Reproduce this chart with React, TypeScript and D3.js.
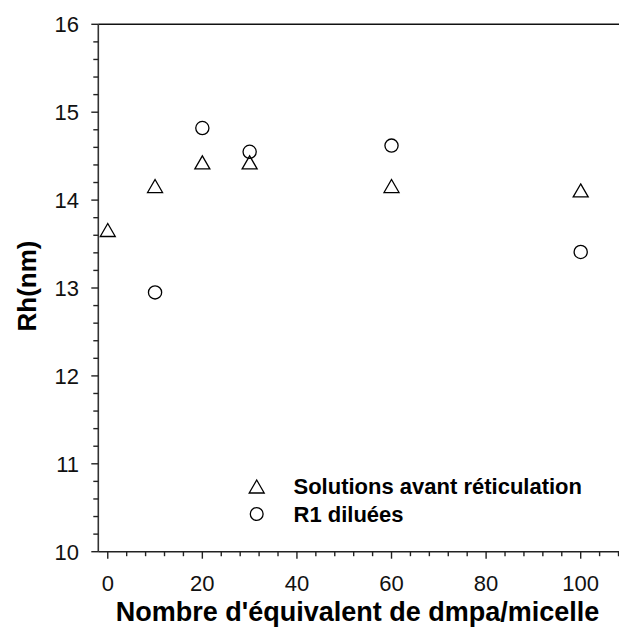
import React from "react";
import * as d3 from "d3";

const xValues = [0, 10, 20, 30, 60, 100];
const solutionsAvant = [13.66, 14.16, 14.43, 14.43, 14.16, 14.11];
const r1X = [10, 20, 30, 60, 100];
const r1Diluees = [12.95, 14.82, 14.55, 14.62, 13.41];
const xTicks = [0, 20, 40, 60, 80, 100];
const yTicks = [10, 11, 12, 13, 14, 15, 16];
const legendLabels = ["Solutions avant réticulation", "R1 diluées"];

const W = 619;
const H = 641;
const FONT = "'Liberation Sans', Arial, Helvetica, sans-serif";

export default function App() {
  const x = d3.scaleLinear().domain([-2, 108.1]).range([98.3, 619]);
  const y = d3.scaleLinear().domain([10, 16]).range([551.7, 24.3]);
  const xMinor = d3.range(-0, 109, 4).filter((v) => v % 20 !== 0);
  const yMinor = d3.range(10, 16.001, 0.2).filter((v) => Math.abs(v - Math.round(v)) > 0.01);
  const tri = (cx: number, cy: number) => {
    const p = d3.path();
    p.moveTo(cx, cy - 6.5);
    p.lineTo(cx + 7.5, cy + 6.5);
    p.lineTo(cx - 7.5, cy + 6.5);
    p.closePath();
    return p.toString();
  };
  const [x0, x1] = x.range();
  const [yb, yt] = y.range();
  return (
    <svg width={W} height={H} style={{ position: "absolute", left: 0, top: 0, background: "#fff" }} fontFamily={FONT}>
      {/* frame lines */}
      <line x1={x0} x2={x1} y1={yt} y2={yt} stroke="#111" strokeWidth={1.4} />
      <line x1={x0} x2={x1} y1={yb} y2={yb} stroke="#222" strokeWidth={1.4} />
      <line x1={x0} x2={x0} y1={yt} y2={yb} stroke="#333" strokeWidth={1.6} />
      {/* y ticks */}
      {yTicks.map((t) => (
        <g key={"yt" + t}>
          <line x1={x0 - 7} x2={x0} y1={y(t)} y2={y(t)} stroke="#222" strokeWidth={1.4} />
          <text x={79} y={y(t)} dy="0.36em" textAnchor="end" fontSize={22} fill="#111">{t}</text>
        </g>
      ))}
      {yMinor.map((t, i) => (
        <line key={"ym" + i} x1={x0 - 5} x2={x0} y1={y(t)} y2={y(t)} stroke="#222" strokeWidth={1.4} />
      ))}
      {/* x ticks */}
      {xTicks.map((t) => (
        <g key={"xt" + t}>
          <line x1={x(t)} x2={x(t)} y1={yb} y2={yb + 7} stroke="#222" strokeWidth={1.4} />
          <text x={x(t)} y={591} textAnchor="middle" fontSize={22} fill="#111">{t}</text>
        </g>
      ))}
      {xMinor.map((t, i) => (
        <line key={"xm" + i} x1={x(t)} x2={x(t)} y1={yb} y2={yb + 4.5} stroke="#222" strokeWidth={1.4} />
      ))}
      {/* axis titles */}
      <text x={357.5} y={621} textAnchor="middle" fontSize={27} fontWeight="bold" fill="#000">Nombre d'équivalent de dmpa/micelle</text>
      <text transform={`translate(36,286) rotate(-90)`} textAnchor="middle" fontSize={26} fontWeight="bold" fill="#000">Rh(nm)</text>
      {/* data */}
      {xValues.map((v, i) => (
        <path key={"tri" + i} d={tri(x(v), y(solutionsAvant[i]))} fill="none" stroke="#000" strokeWidth={1.3} />
      ))}
      {r1X.map((v, i) => (
        <circle key={"c" + i} cx={x(v)} cy={y(r1Diluees[i])} r={6.6} fill="none" stroke="#000" strokeWidth={1.3} />
      ))}
      {/* legend */}
      <path d={tri(256.7, 486.5)} fill="none" stroke="#000" strokeWidth={1.3} />
      <text x={293.5} y={494} fontSize={22} fontWeight="bold" fill="#000">{legendLabels[0]}</text>
      <circle cx={256.7} cy={514} r={6.4} fill="none" stroke="#000" strokeWidth={1.3} />
      <text x={293.5} y={522} fontSize={22} fontWeight="bold" fill="#000">{legendLabels[1]}</text>
    </svg>
  );
}
